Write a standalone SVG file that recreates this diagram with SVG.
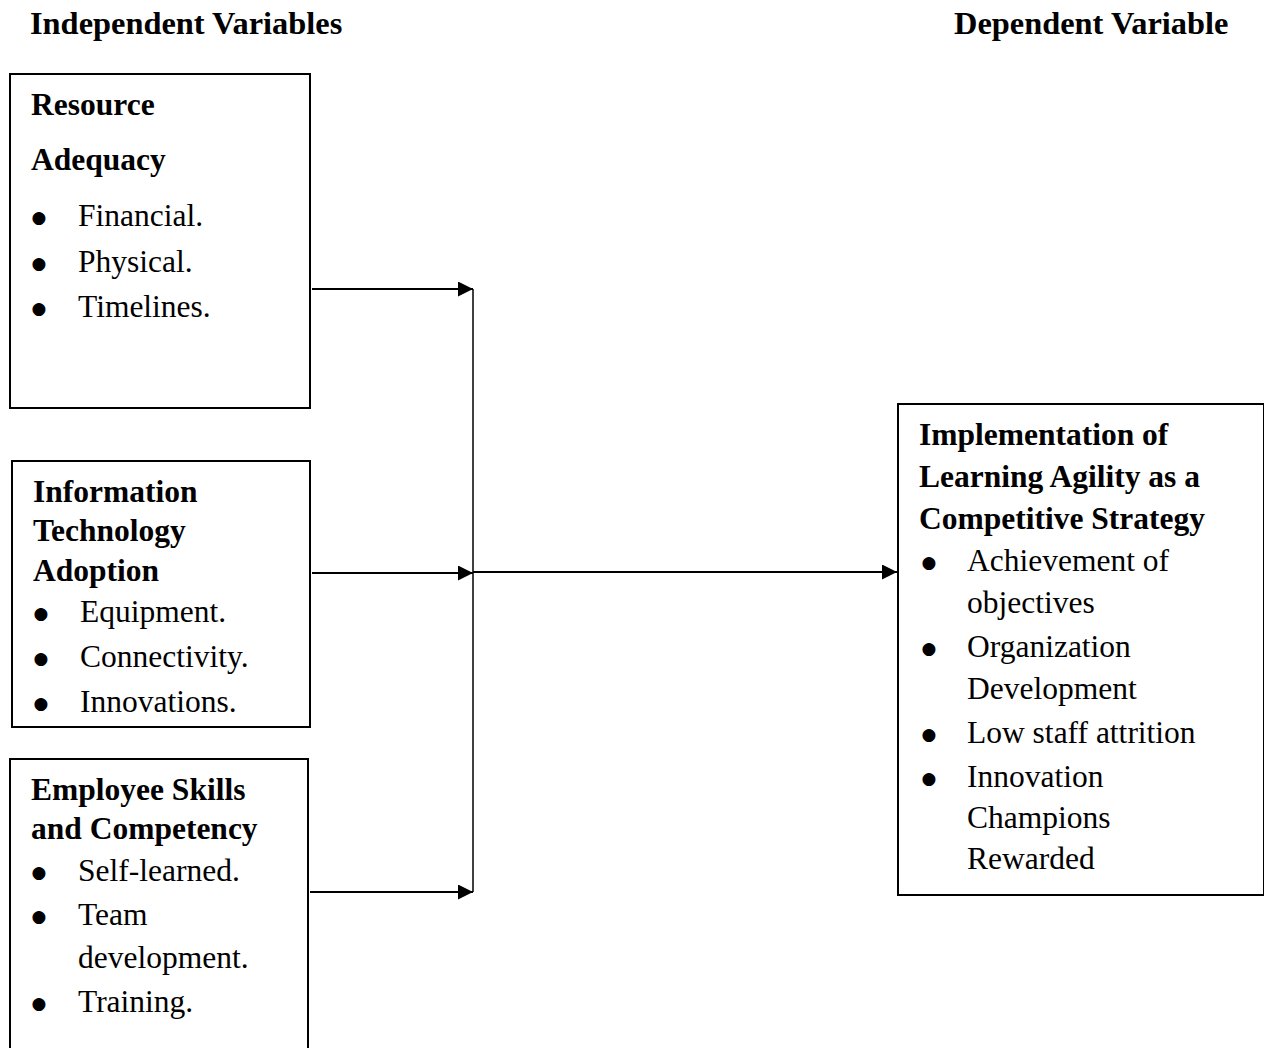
<svg xmlns="http://www.w3.org/2000/svg" width="1264" height="1048" viewBox="0 0 1264 1048">
<defs>
<style>
text{font-family:"Liberation Serif","Times New Roman",serif;font-size:31.5px;fill:#000}
.b{font-weight:bold}
.h{font-weight:bold;font-size:32.4px}
.bu{font-family:"DejaVu Sans",sans-serif;font-size:17px}
.box{fill:#fff;stroke:#000;stroke-width:2}
.ln{stroke:#000;stroke-width:2.2;fill:none}
.vl{stroke:#000;stroke-width:1.5;fill:none}
</style>
<marker id="ah" markerWidth="16" markerHeight="16" refX="15" refY="7.5" orient="auto" markerUnits="userSpaceOnUse">
<path d="M0,0 L15,7.5 L0,15 Z" fill="#000"/>
</marker>
</defs>
<rect width="1264" height="1048" fill="#fff"/>
<g id="headers">
<text class="h" x="30" y="34">Independent Variables</text>
<text class="h" x="954" y="34">Dependent Variable</text>
</g>
<g id="connectors">
<line class="vl" x1="473" y1="289" x2="473" y2="892"/>
<line class="ln" x1="312" y1="289" x2="473" y2="289" marker-end="url(#ah)"/>
<line class="ln" x1="312" y1="573" x2="473" y2="573" marker-end="url(#ah)"/>
<line class="ln" x1="310" y1="892" x2="473" y2="892" marker-end="url(#ah)"/>
<line class="ln" x1="473" y1="572" x2="897" y2="572" marker-end="url(#ah)"/>
</g>
<g id="resource">
<rect class="box" x="10" y="74" width="300" height="334"/>
<text class="b" x="31" y="115">Resource</text>
<text class="b" x="31" y="170">Adequacy</text>
<text class="bu" x="31.5" y="223">●</text><text x="78" y="226">Financial.</text>
<text class="bu" x="31.5" y="269">●</text><text x="78" y="272">Physical.</text>
<text class="bu" x="31.5" y="314">●</text><text x="78" y="317">Timelines.</text>
</g>
<g id="it">
<rect class="box" x="12" y="461" width="298" height="266"/>
<text class="b" x="33" y="502">Information</text>
<text class="b" x="33" y="541">Technology</text>
<text class="b" x="33" y="581">Adoption</text>
<text class="bu" x="33.5" y="619">●</text><text x="80" y="622">Equipment.</text>
<text class="bu" x="33.5" y="664">●</text><text x="80" y="667">Connectivity.</text>
<text class="bu" x="33.5" y="709">●</text><text x="80" y="712">Innovations.</text>
</g>
<g id="skills">
<rect class="box" x="10" y="759" width="298" height="300"/>
<text class="b" x="31" y="800">Employee Skills</text>
<text class="b" x="31" y="839">and Competency</text>
<text class="bu" x="31.5" y="878">●</text><text x="78" y="881">Self-learned.</text>
<text class="bu" x="31.5" y="922">●</text><text x="78" y="925">Team</text>
<text x="78" y="968">development.</text>
<text class="bu" x="31.5" y="1009">●</text><text x="78" y="1012">Training.</text>
</g>
<g id="implementation">
<rect class="box" x="898" y="404" width="366" height="491"/>
<text class="b" x="919" y="445">Implementation of</text>
<text class="b" x="919" y="487">Learning Agility as a</text>
<text class="b" x="919" y="529">Competitive Strategy</text>
<text class="bu" x="921.5" y="568">●</text><text x="967" y="571">Achievement of</text>
<text x="967" y="613">objectives</text>
<text class="bu" x="921.5" y="654">●</text><text x="967" y="657">Organization</text>
<text x="967" y="699">Development</text>
<text class="bu" x="921.5" y="740">●</text><text x="967" y="743">Low staff attrition</text>
<text class="bu" x="921.5" y="784">●</text><text x="967" y="787">Innovation</text>
<text x="967" y="828">Champions</text>
<text x="967" y="869">Rewarded</text>
</g>
</svg>
